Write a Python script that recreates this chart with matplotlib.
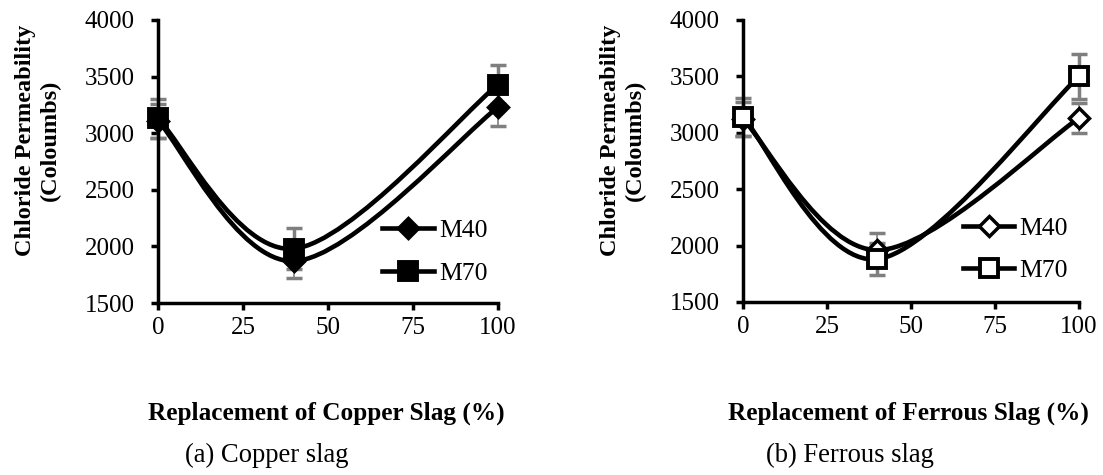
import numpy as np
import matplotlib
matplotlib.use("Agg")
import matplotlib.pyplot as plt
from matplotlib.path import Path
from matplotlib.patches import PathPatch
from matplotlib.lines import Line2D

plt.rcParams["font.family"] = ["Liberation Serif", "DejaVu Serif"]

replacement = [0, 40, 100]

# (a) copper slag
cu_m40 = [3110, 1870, 3230]
cu_m40_err = [150, 150, 170]
cu_m70 = [3130, 1980, 3430]
cu_m70_err = [170, 180, 170]

# (b) ferrous slag
fe_m40 = [3120, 1960, 3130]
fe_m40_err = [150, 150, 130]
fe_m70 = [3140, 1880, 3500]
fe_m70_err = [170, 140, 200]

yticks = [1500, 2000, 2500, 3000, 3500, 4000]
xticks = [0, 25, 50, 75, 100]


def smooth_path(xs, ys):
    """Bezier path through the points, spreadsheet-style smoothed line."""
    pts = np.column_stack([xs, ys]).astype(float)
    n = len(pts)
    verts = [pts[0]]
    codes = [Path.MOVETO]
    for i in range(n - 1):
        p_prev = pts[max(i - 1, 0)]
        p0 = pts[i]
        p1 = pts[i + 1]
        p_next = pts[min(i + 2, n - 1)]
        c1 = p0 + (p1 - p_prev) / 6.0
        c2 = p1 - (p_next - p0) / 6.0
        verts += [c1, c2, p1]
        codes += [Path.CURVE4] * 3
    return Path(verts, codes)


def draw_panel(ax, m40, m40_err, m70, m70_err, filled, legend_anchor):
    face = "black" if filled else "white"
    # error bars
    ax.errorbar(replacement, m40, yerr=m40_err, fmt="none", ecolor="#7f7f7f",
                elinewidth=1.2, capsize=6, capthick=2.5, clip_on=False, zorder=2)
    ax.errorbar(replacement, m70, yerr=m70_err, fmt="none", ecolor="#7f7f7f",
                elinewidth=2.5, capsize=6, capthick=2.5, clip_on=False, zorder=2)
    for vals, z in ((m40, 3), (m70, 4)):
        ax.add_patch(PathPatch(smooth_path(replacement, vals), fill=False,
                               edgecolor="black", lw=3.3, zorder=z, clip_on=False))
    ax.plot(replacement, m40, ls="none", marker="D", ms=10, mfc=face,
            mec="black", mew=2.5, clip_on=False, zorder=5)
    ax.plot(replacement, m70, ls="none", marker="s", ms=13, mfc=face,
            mec="black", mew=2.8, clip_on=False, zorder=6)

    handles = [
        Line2D([], [], color="black", lw=3.3, marker="D", ms=10, mfc=face,
               mec="black", mew=2.5),
        Line2D([], [], color="black", lw=3.3, marker="s", ms=13, mfc=face,
               mec="black", mew=2.8),
    ]
    ax.legend(handles, ["M40", "M70"], loc="center left",
              bbox_to_anchor=legend_anchor, frameon=False, fontsize=18.5,
              handlelength=2.0, handletextpad=0.2, labelspacing=0.75,
              borderaxespad=0, borderpad=0)

    ax.set_xlim(0, 100)
    ax.set_ylim(1500, 4000)
    ax.set_xticks(xticks)
    ax.set_yticks(yticks)
    for s in ("top", "right"):
        ax.spines[s].set_visible(False)
    for s in ("left", "bottom"):
        ax.spines[s].set_linewidth(2.5)
    ax.tick_params(direction="out", length=5, width=2.5, labelsize=18)
    ax.tick_params(axis="x", pad=5)
    ax.tick_params(axis="y", pad=12)


fig = plt.figure(figsize=(11.03, 4.75), dpi=100)
ax1 = fig.add_axes([158 / 1103, 1 - 303 / 475, 340 / 1103, 283 / 475])
ax2 = fig.add_axes([743 / 1103, 1 - 302 / 475, 336 / 1103, 282 / 475])

draw_panel(ax1, cu_m40, cu_m40_err, cu_m70, cu_m70_err, True, (0.66, 0.18))
draw_panel(ax2, fe_m40, fe_m40_err, fe_m70, fe_m70_err, False, (0.655, 0.185))

label_kw = dict(fontsize=17.5, fontweight="bold", rotation=90,
                ha="center", va="center", linespacing=1.2)
fig.text(38 / 1103, 1 - 140 / 475, "Chloride Permeability\n(Coloumbs)", **label_kw)
fig.text(623 / 1103, 1 - 140 / 475, "Chloride Permeability\n(Coloumbs)", **label_kw)

fig.text(326 / 1103, 1 - 413 / 475, "Replacement of Copper Slag (%)",
         fontsize=18.2, fontweight="bold", ha="center", va="center")
fig.text(908 / 1103, 1 - 413 / 475, "Replacement of Ferrous Slag (%)",
         fontsize=18.2, fontweight="bold", ha="center", va="center")

fig.text(267 / 1103, 1 - 455 / 475, "(a) Copper slag", fontsize=19.2,
         ha="center", va="center")
fig.text(850 / 1103, 1 - 455 / 475, "(b) Ferrous slag", fontsize=19.2,
         ha="center", va="center")

fig.savefig("out.png", dpi=100)
